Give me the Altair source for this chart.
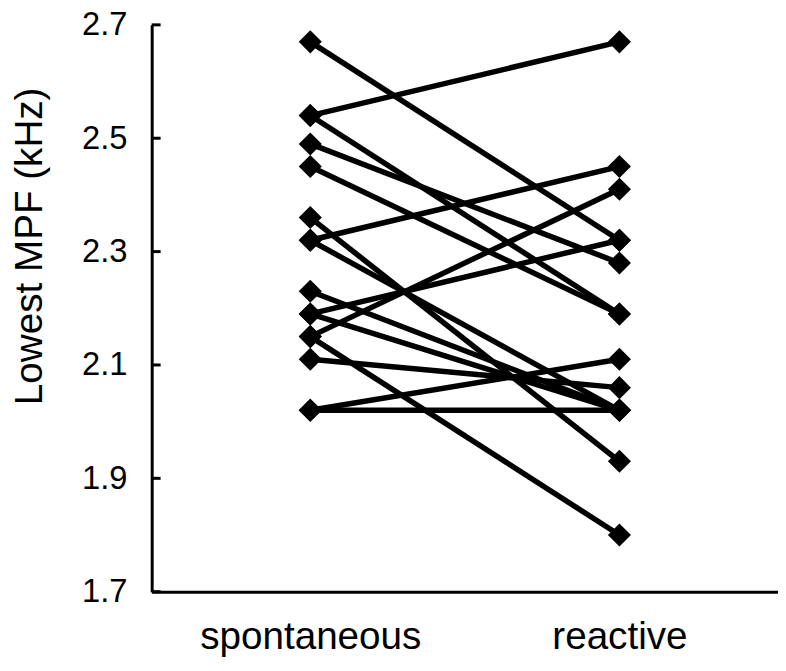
import altair as alt
import pandas as pd

conditions = ["spontaneous", "reactive"]
spontaneous = [2.67, 2.54, 2.54, 2.49, 2.45, 2.36, 2.32, 2.32, 2.23, 2.19, 2.19, 2.15, 2.15, 2.11, 2.02, 2.02]
reactive = [2.32, 2.67, 2.19, 2.28, 2.19, 1.93, 2.45, 2.02, 2.02, 2.32, 2.02, 2.41, 1.80, 2.06, 2.02, 2.11]
y_ticks = [1.7, 1.9, 2.1, 2.3, 2.5, 2.7]

rows = []
for i, (a, b) in enumerate(zip(spontaneous, reactive)):
    rows.append({"subject": i, "condition": conditions[0], "mpf": a})
    rows.append({"subject": i, "condition": conditions[1], "mpf": b})
df = pd.DataFrame(rows)
tick_df = pd.DataFrame({"mpf": y_ticks})

FONT = "Liberation Sans"
yscale = alt.Scale(domain=[1.7, 2.7], nice=False, zero=False)
x = alt.X(
    "condition:N",
    sort=conditions,
    scale=alt.Scale(type="point", padding=0.513),
    axis=alt.Axis(
        title=None, labelAngle=0, ticks=False, tickSize=0, domain=True,
        domainColor="black", domainWidth=3, labelFontSize=39, labelPadding=26,
        labelColor="black", labelFont=FONT, labelBaseline="top", labelLimit=0,
    ),
)
y = alt.Y(
    "mpf:Q",
    scale=yscale,
    axis=alt.Axis(
        values=y_ticks, format=".1f", title="Lowest MPF (kHz)", ticks=False, tickSize=0,
        domain=True, domainColor="black", domainWidth=3, grid=False,
        labelFontSize=33, labelPadding=25, labelColor="black", labelFont=FONT,
        titleFontSize=39, titleFont=FONT, titleFontWeight="normal", titleColor="black",
        titleX=-142, titleY=223, titleBaseline="top", titleAlign="center", titleAngle=270,
    ),
)

lines = alt.Chart(df).mark_line(color="black", strokeWidth=5.5).encode(
    x=x, y=y, detail="subject:N"
)
points = alt.Chart(df).mark_point(
    shape="diamond", filled=True, size=540, color="black", opacity=1
).encode(x=x, y=y)
ticks = alt.Chart(tick_df).mark_rule(color="black", strokeWidth=3).encode(
    y=y,
    x=alt.value(0),
    x2=alt.value(9),
)

chart = (
    alt.layer(lines, points, ticks)
    .properties(
        width=632,
        height=572,
        background="white",
        autosize=alt.AutoSizeParams(type="none"),
        padding={"left": 145, "top": 14, "right": 0, "bottom": 76},
    )
    .configure_view(stroke=None)
)

chart.save("out.html", embed_options={"renderer": "svg", "actions": False})
